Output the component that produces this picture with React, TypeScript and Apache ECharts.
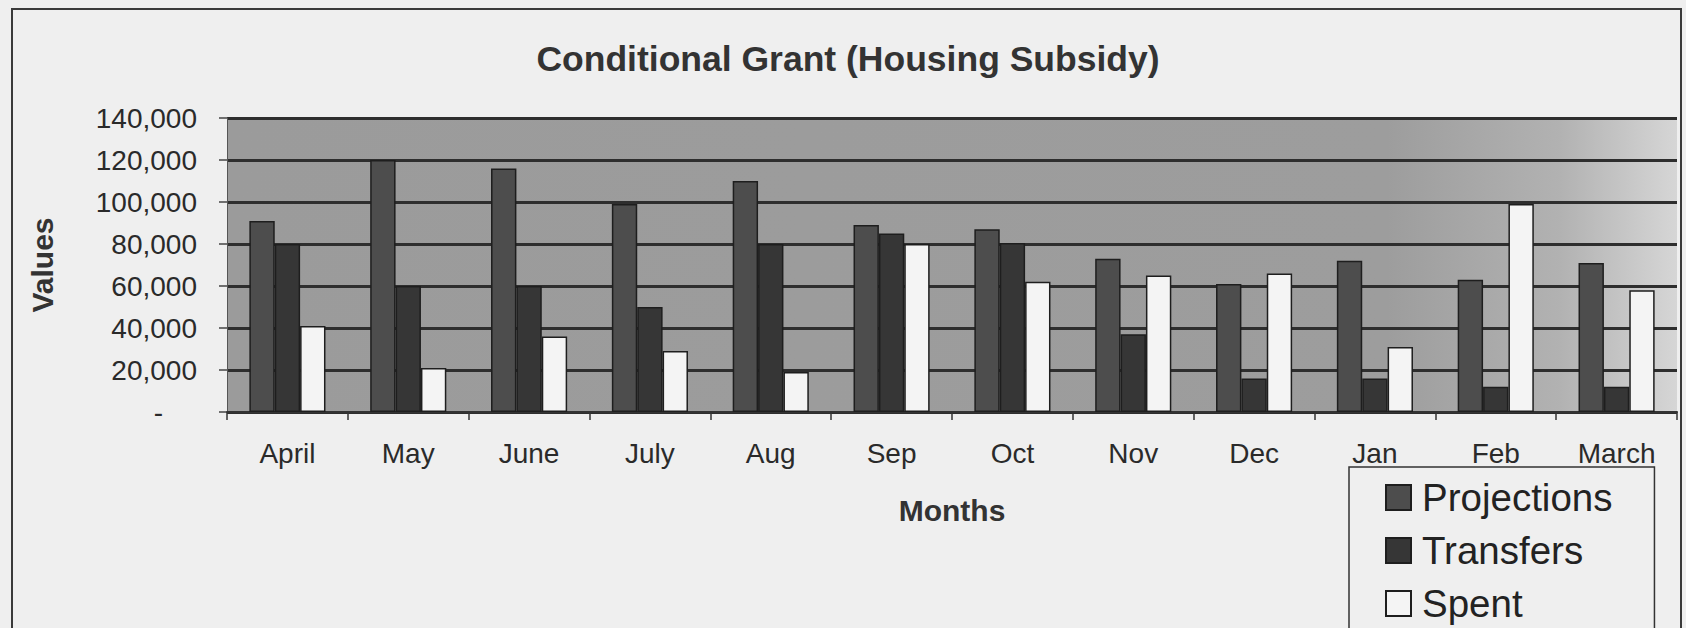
import React, { useEffect, useRef } from "react";
import * as echarts from "echarts";

const titleText = "Conditional Grant (Housing Subsidy)";
const months = ["April", "May", "June", "July", "Aug", "Sep", "Oct", "Nov", "Dec", "Jan", "Feb", "March"];
const projections = [91000, 120000, 116000, 99000, 110000, 89000, 87000, 73000, 61000, 72000, 63000, 71000];
const transfers = [80000, 60000, 60000, 50000, 80000, 85000, 80500, 37000, 16000, 16000, 12000, 12000];
const spent = [41000, 21000, 36000, 29000, 19000, 80000, 62000, 65000, 66000, 31000, 99000, 58000];
const yMin = 0;
const yMax = 140000;
const yStep = 20000;

const FONT = "'Liberation Sans', Arial, sans-serif";

export default function App() {
  const ref = useRef<HTMLDivElement>(null);
  useEffect(() => {
    if (!ref.current) return;
    const chart = echarts.init(ref.current, undefined, { renderer: "svg" });
    const border = { borderColor: "#1e1e1e", borderWidth: 1.5 };
    chart.setOption({
      animation: false,
      backgroundColor: "#efefef",
      title: {
        text: titleText,
        left: 843,
        textAlign: "center",
        top: 36,
        textStyle: { fontFamily: FONT, fontSize: 35.5, fontWeight: "bold", color: "#333" },
      },
      graphic: [
        {
          type: "rect",
          shape: { x: 12, y: 9, width: 1669, height: 640 },
          style: { fill: "none", stroke: "#3a3a3a", lineWidth: 2 },
          z: -1,
        },
      ],
      legend: {
        orient: "vertical",
        left: 1349,
        top: 467,
        height: 260,
        padding: [11, 42, 40, 36],
        borderColor: "#333",
        borderWidth: 1.5,
        icon: "rect",
        itemWidth: 25,
        itemHeight: 25,
        itemGap: 14,
        textStyle: { fontFamily: FONT, fontSize: 38.5, lineHeight: 38, color: "#222", padding: [0, 0, 0, 6] },
        data: ["Projections", "Transfers", "Spent"],
      },
      grid: {
        left: 227,
        right: 9,
        top: 118,
        bottom: 216,
        show: true,
        borderWidth: 0,
        backgroundColor: {
          type: "linear",
          x: 0,
          y: 0,
          x2: 1,
          y2: 0,
          colorStops: [
            { offset: 0, color: "#9b9b9b" },
            { offset: 0.8, color: "#9d9d9d" },
            { offset: 0.92, color: "#b2b2b2" },
            { offset: 1, color: "#d6d6d6" },
          ],
        },
      },
      xAxis: {
        type: "category",
        data: months,
        name: "Months",
        nameLocation: "middle",
        nameGap: 83,
        nameTextStyle: { fontFamily: FONT, fontSize: 30, fontWeight: "bold", color: "#333" },
        axisLine: { show: true, lineStyle: { color: "#333", width: 2 } },
        axisTick: { show: true, length: 8, lineStyle: { color: "#333", width: 1.5 } },
        axisLabel: { fontFamily: FONT, fontSize: 28, color: "#2a2a2a", margin: 27 },
      },
      yAxis: {
        type: "value",
        min: yMin,
        max: yMax,
        interval: yStep,
        name: "Values",
        nameLocation: "middle",
        nameGap: 170,
        nameRotate: 90,
        nameTextStyle: { fontFamily: FONT, fontSize: 30, fontWeight: "bold", color: "#333" },
        axisLine: { show: true, lineStyle: { color: "#555", width: 1 } },
        axisTick: { show: true, length: 8, lineStyle: { color: "#444", width: 1.5 } },
        splitLine: { show: true, lineStyle: { color: "#2e2e2e", width: 3 } },
        axisLabel: {
          fontFamily: FONT,
          fontSize: 28,
          color: "#2a2a2a",
          margin: 30,
          formatter: (v: number) => (v === 0 ? "{d|-}" : v.toLocaleString("en-US")),
          rich: { d: { fontFamily: FONT, fontSize: 28, color: "#2a2a2a", padding: [0, 34, 0, 0] } },
        },
      },
      series: [
        {
          name: "Projections",
          type: "bar",
          data: projections,
          barGap: "0%",
          barCategoryGap: "37%",
          itemStyle: { color: "#4d4d4d", ...border },
        },
        {
          name: "Transfers",
          type: "bar",
          data: transfers,
          barGap: "0%",
          barCategoryGap: "37%",
          itemStyle: { color: "#363636", ...border },
        },
        {
          name: "Spent",
          type: "bar",
          data: spent,
          barGap: "0%",
          barCategoryGap: "37%",
          itemStyle: { color: "#f4f4f4", ...border },
        },
      ],
    });
    return () => chart.dispose();
  }, []);
  return (
    <div
      ref={ref}
      style={{ position: "fixed", left: 0, top: 0, width: 1686, height: 628, background: "#efefef" }}
    />
  );
}
